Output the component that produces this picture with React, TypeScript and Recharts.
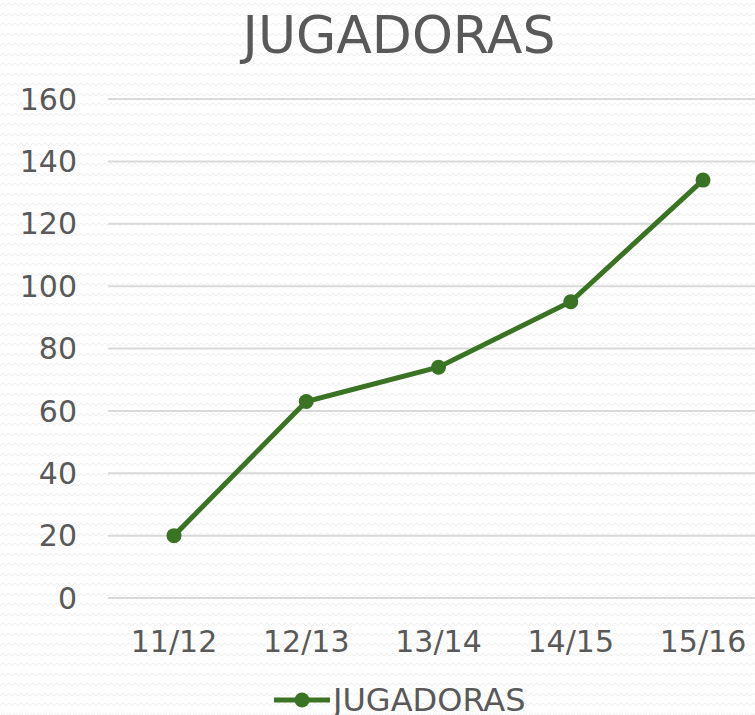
import React from 'react';
import { LineChart, Line, XAxis, YAxis, CartesianGrid, Legend } from 'recharts';

// Values
const seasons = ['11/12', '12/13', '13/14', '14/15', '15/16'];
const jugadoras = [20, 63, 74, 95, 134];
const yTicks = [0, 20, 40, 60, 80, 100, 120, 140, 160];

const GREEN = '#3b7324';
const TEXT = '#595959';
const FONT = 'Verdana, "DejaVu Sans", sans-serif';

const data = seasons.map((s, i) => ({ season: s, JUGADORAS: jugadoras[i] }));

// faint zigzag texture like the original background
const zigzag =
  "url(\"data:image/svg+xml;utf8,<svg xmlns='http://www.w3.org/2000/svg' width='6' height='10'><polyline points='0,6 3,3 6,6' fill='none' stroke='%23eeeeee' stroke-width='1'/></svg>\")";

const LegendContent = () => (
  <div style={{ display: 'flex', alignItems: 'center', height: 30, marginLeft: 273, overflow: 'visible' }}>
    <svg width={58} height={20}>
      <line x1={1} y1={10} x2={57} y2={10} stroke={GREEN} strokeWidth={5} />
      <circle cx={29} cy={10} r={7.5} fill={GREEN} />
    </svg>
    <span style={{ fontFamily: FONT, fontSize: 32, color: TEXT, marginLeft: 2, lineHeight: '30px', whiteSpace: 'nowrap' }}>
      JUGADORAS
    </span>
  </div>
);

export default function App() {
  return (
    <div
      style={{
        position: 'absolute',
        left: 0,
        top: 0,
        width: 755,
        height: 715,
        overflow: 'hidden',
        backgroundColor: '#ffffff',
        backgroundImage: zigzag,
      }}
    >
      <div
        style={{
          position: 'absolute',
          left: 399,
          top: 4,
          transform: 'translateX(-50%)',
          fontFamily: FONT,
          fontSize: 52,
          color: TEXT,
          lineHeight: '62px',
          whiteSpace: 'nowrap',
        }}
      >
        JUGADORAS
      </div>
      <LineChart width={769} height={715} data={data} margin={{ top: 99, right: 0, bottom: 0, left: 0 }}>
        <CartesianGrid vertical={false} stroke="#d9d9d9" strokeWidth={2} />
        <XAxis
          dataKey="season"
          axisLine={false}
          tickLine={false}
          height={87}
          padding={{ left: 66, right: 66 }}
          tickMargin={27}
          tick={{ fontSize: 30, fill: TEXT, fontFamily: FONT }}
        />
        <YAxis
          domain={[0, 160]}
          ticks={yTicks}
          width={108}
          axisLine={false}
          tickLine={false}
          tickMargin={25}
          tick={{ fontSize: 30, fill: TEXT, fontFamily: FONT }}
        />
        <Legend verticalAlign="bottom" content={<LegendContent />} />
        <Line
          type="linear"
          dataKey="JUGADORAS"
          stroke={GREEN}
          strokeWidth={5}
          dot={{ r: 7.5, fill: GREEN, stroke: GREEN, strokeWidth: 0 }}
          isAnimationActive={false}
        />
      </LineChart>
    </div>
  );
}
